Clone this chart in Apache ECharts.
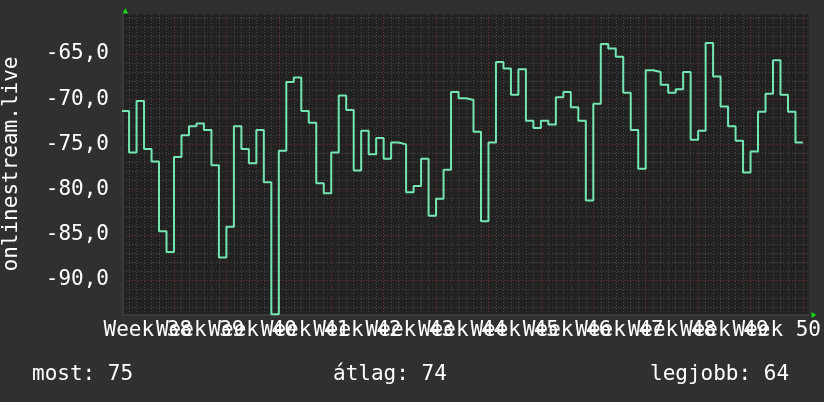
<!DOCTYPE html>
<html><head><meta charset="utf-8">
<script src="https://cdn.jsdelivr.net/npm/echarts@6/dist/echarts.min.js"></script>
<style>html,body{margin:0;padding:0;background:#303030;}#c{width:824px;height:402px;}</style>
</head><body><div id="c"></div>
<script>
const seriesName = 'onlinestream.live';
// one value per day, starting at the beginning of week 38
const dailyValues = [
  -71.3, -75.9, -70.2, -75.5, -76.9, -84.6, -86.9,
  -76.4, -74.0, -73.0, -72.7, -73.4, -77.3, -87.5,
  -84.1, -73.0, -75.5, -77.1, -73.4, -79.2, -93.8,
  -75.7, -68.1, -67.6, -71.3, -72.6, -79.3, -80.4,
  -75.9, -69.6, -71.2, -77.9, -73.5, -76.1, -74.3,
  -76.6, -74.8, -75.0, -80.3, -79.6, -76.6, -82.9,
  -81.0, -77.8, -69.2, -69.9, -70.1, -73.6, -83.5,
  -74.8, -65.9, -66.6, -69.5, -66.7, -72.4, -73.2,
  -72.4, -72.8, -69.8, -69.2, -70.9, -72.4, -81.2,
  -70.5, -63.9, -64.4, -65.3, -69.3, -73.4, -77.7,
  -66.8, -67.0, -68.4, -69.3, -68.9, -67.0, -74.5,
  -73.5, -63.8, -67.5, -70.8, -73.0, -74.6, -78.1,
  -75.8, -71.4, -69.4, -65.7, -69.5, -71.4, -74.8
];
const weekLabels = ['Week 38','Week 39','Week 40','Week 41','Week 42','Week 43','Week 44',
                    'Week 45','Week 46','Week 47','Week 48','Week 49','Week 50'];
const summaryLabels = ['most', 'átlag', 'legjobb'];
const summaryValues = [75, 74, 64];

const stepData = dailyValues.map((v, i) => [i, v]);
stepData.push([dailyValues.length, dailyValues[dailyValues.length - 1]]);

const FONT = 'DejaVu Sans Mono';
const X_MIN = 0.19, X_MAX = 91.76, Y_MIN = -93.87, Y_MAX = -60.58;
const LABEL_SHIFT = 3.5;
const majorLine = { color: '#6f3030', type: [1, 2], width: 1 };
const minorLine = { color: '#484848', type: [1, 2], width: 1 };
const axisLineStyle = { color: '#3a3a3a', width: 2 };

const chart = echarts.init(document.getElementById('c'), null, { renderer: 'canvas' });
const summaryX = [32, 333, 650];
chart.setOption({
  backgroundColor: '#303030',
  animation: false,
  grid: { left: 123, right: 15, top: 14, bottom: 87, show: true, backgroundColor: '#222222', borderWidth: 0, containLabel: false },
  xAxis: [
    {
      type: 'value', min: X_MIN, max: X_MAX, minInterval: 7, maxInterval: 7, position: 'bottom',
      axisLine: { show: true, onZero: false, lineStyle: axisLineStyle },
      axisTick: { show: false }, axisLabel: { show: false },
      splitLine: { show: true, showMinLine: false, showMaxLine: false, lineStyle: majorLine },
      minorTick: { show: false, splitNumber: 7 },
      minorSplitLine: { show: true, lineStyle: minorLine }
    },
    {
      type: 'value', min: X_MIN - LABEL_SHIFT, max: X_MAX - LABEL_SHIFT, minInterval: 7, maxInterval: 7, position: 'bottom',
      axisLine: { show: false }, axisTick: { show: false }, splitLine: { show: false },
      axisLabel: {
        show: true, showMinLabel: false, showMaxLabel: false, hideOverlap: false, margin: 5,
        color: '#ffffff', fontFamily: FONT, fontSize: 21,
        formatter: v => { const k = Math.round(v / 7); return (Math.abs(v - k * 7) < 1e-6 && weekLabels[k]) ? weekLabels[k] : ''; }
      }
    }
  ],
  yAxis: {
    type: 'value', min: Y_MIN, max: Y_MAX, minInterval: 5, maxInterval: 5,
    axisLine: { show: true, onZero: false, lineStyle: axisLineStyle },
    axisTick: { show: false },
    axisLabel: {
      showMinLabel: false, showMaxLabel: false, margin: 14, color: '#ffffff', fontFamily: FONT, fontSize: 21,
      formatter: v => v.toFixed(1).replace('.', ',')
    },
    splitLine: { show: true, showMinLine: false, showMaxLine: false, lineStyle: majorLine },
    minorTick: { show: false, splitNumber: 5 },
    minorSplitLine: { show: true, lineStyle: minorLine }
  },
  series: [{
    name: seriesName, type: 'line', data: stepData, step: 'end', xAxisIndex: 0, yAxisIndex: 0,
    showSymbol: false, symbol: 'none', clip: true, z: 5,
    lineStyle: { color: '#74e6b2', width: 2 }
  }],
  graphic: [
    { type: 'text', x: 12, y: 164, rotation: Math.PI / 2,
      style: { text: seriesName, fill: '#ffffff', font: '21px "DejaVu Sans Mono"', align: 'center', verticalAlign: 'middle' } },
    ...summaryLabels.map((l, i) => ({
      type: 'text', x: summaryX[i], y: 375,
      style: { text: l + ': ' + summaryValues[i], fill: '#ffffff', font: '21px "DejaVu Sans Mono"', align: 'left', verticalAlign: 'middle' }
    })),
    { type: 'polygon', shape: { points: [[125.3, 8], [122.5, 13.5], [128.1, 13.5]] }, style: { fill: '#19d419' } },
    { type: 'polygon', shape: { points: [[816.5, 315], [811.5, 312], [811.5, 318]] }, style: { fill: '#19d419' } }
  ]
});
</script>
</body></html>
